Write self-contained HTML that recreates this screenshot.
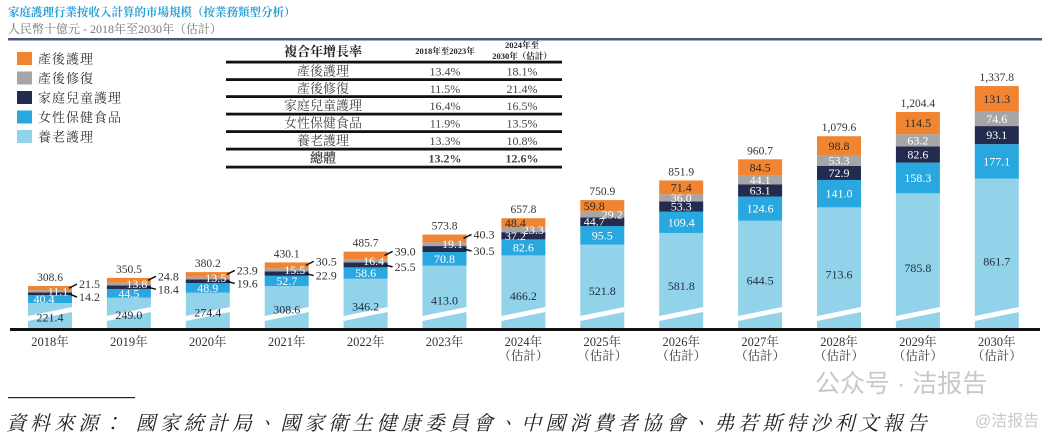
<!DOCTYPE html>
<html><head><meta charset="utf-8"><style>
body{margin:0;background:#fff;}
svg{display:block;font-family:"Liberation Serif","Noto Serif CJK TC","Noto Serif CJK SC",serif;}
</style></head><body>
<svg id="chart" width="1049" height="443" viewBox="0 0 1049 443">
<text x="8" y="16" font-size="11.5" font-weight="bold" fill="#2a9fd6">家庭護理行業按收入計算的市場規模（按業務類型分析）</text>
<text x="8" y="33" font-size="12" fill="#777">人民幣十億元 - 2018年至2030年（估計）</text>
<rect x="8" y="38" width="1034" height="2.5" fill="#4a5878"/>
<g id="legend"></g>
<g id="table"></g>
<g id="bars"></g>
<rect x="10" y="328" width="1030" height="3" fill="#111"/>
<rect x="8" y="397" width="127" height="1.2" fill="#222"/>
<text x="6" y="430" font-size="20" font-style="italic" letter-spacing="4.1" fill="#222">資料來源：  國家統計局、國家衛生健康委員會、中國消費者協會、弗若斯特沙利文報告</text>
<text x="815" y="392" font-size="25" fill="#c8c8c8" font-family="Liberation Sans, Noto Sans CJK SC, sans-serif">公众号 · 洁报告</text>
<text x="975" y="426" font-size="16" fill="#c8c8c8" font-family="Liberation Sans, Noto Sans CJK SC, sans-serif">@洁报告</text>
</svg>
<script>
const years=["2018年","2019年","2020年","2021年","2022年","2023年","2024年","2025年","2026年","2027年","2028年","2029年","2030年"];
const estimated=[false,false,false,false,false,false,true,true,true,true,true,true,true];
const elderly=[221.4,249.0,274.4,308.6,346.2,413.0,466.2,521.8,581.8,644.5,713.6,785.8,861.7];
const womenHealth=[40.4,44.5,48.9,52.7,58.6,70.8,82.6,95.5,109.4,124.6,141.0,158.3,177.1];
const childCare=[14.2,18.4,19.6,22.9,25.5,30.5,37.2,44.7,53.3,63.1,72.9,82.6,93.1];
const postpartumRecovery=[11.1,13.8,13.5,15.5,16.4,19.1,23.3,29.2,36.0,44.1,53.3,63.2,74.6];
const postpartumCare=[21.5,24.8,23.9,30.5,39.0,40.3,48.4,59.8,71.4,84.5,98.8,114.5,131.3];
const totals=["308.6","350.5","380.2","430.1","485.7","573.8","657.8","750.9","851.9","960.7","1,079.6","1,204.4","1,337.8"];
const seriesNames=["產後護理","產後修復","家庭兒童護理","女性保健食品","養老護理"];
const tableRows=["產後護理","產後修復","家庭兒童護理","女性保健食品","養老護理","總體"];
const cagr1=["13.4%","11.5%","16.4%","11.9%","13.3%","13.2%"];
const cagr2=["18.1%","21.4%","16.5%","13.5%","10.8%","12.6%"];

const NS="http://www.w3.org/2000/svg";
const colors=["#f08431","#a6a6a8","#232b4f","#29a8e0","#92d3e9"];
function mk(tag,attrs,parent,txt){const e=document.createElementNS(NS,tag);for(const k in attrs)e.setAttribute(k,attrs[k]);if(txt!==undefined)e.textContent=txt;parent.appendChild(e);return e;}
const base=329, k=0.1943, off=17;
const xc=i=>50+i*78.9;
const bw=44;
const h=v=>v*k;

const lg=document.getElementById('legend');
seriesNames.forEach((n,i)=>{
  const y=52+i*19.5;
  const r=mk('rect',{x:17,y:y,width:15,height:13,fill:colors[i]},lg);
  
  
  const t=mk('text',{x:38,y:y+11.5,'font-size':13,'letter-spacing':1,fill:'#333'},lg,n);
  
  
});

const tb=document.getElementById('table');
const tl=226, tr=562;
let t0=mk('text',{x:323,y:56,'font-size':13,'font-weight':'bold','text-anchor':'middle',fill:'#222'},tb,"複合年增長率");


t0=mk('text',{x:445,y:54,'font-size':8.5,'font-weight':'bold','text-anchor':'middle',fill:'#222'},tb,"2018年至2023年");


t0=mk('text',{x:522,y:48,'font-size':8.5,'font-weight':'bold','text-anchor':'middle',fill:'#222'},tb,"2024年至");


t0=mk('text',{x:522,y:59,'font-size':8.5,'font-weight':'bold','text-anchor':'middle',fill:'#222'},tb,"2030年（估計）");


const lineYs=[62,79.5,96.5,114,131.5,149,167];
lineYs.forEach(y=>{const l=mk('rect',{x:tl,y:y-1.3,width:tr-tl,height:2.8,fill:'#111'},tb);
  
  });
tableRows.forEach((r,i)=>{
  const y=lineYs[i]+13.5, bold=i===5?'bold':'normal';
  let t=mk('text',{x:323,y:y,'font-size':13,'font-weight':bold,'text-anchor':'middle',fill:'#444'},tb,r);
  
  
  t=mk('text',{x:445,y:y,'font-size':12,'font-weight':bold,'text-anchor':'middle',fill:'#444'},tb,cagr1[i]);
  
  
  t=mk('text',{x:522,y:y,'font-size':12,'font-weight':bold,'text-anchor':'middle',fill:'#444'},tb,cagr2[i]);
  
  
});

const g=document.getElementById('bars');
years.forEach((yr,i)=>{
  const cx=xc(i), L=cx-bw/2, R=cx+bw/2;
  const vals=[elderly[i],womenHealth[i],childCare[i],postpartumRecovery[i],postpartumCare[i]];
  const names=["bar-elderly-care","bar-women-health","bar-child-care","bar-postpartum-recovery","bar-postpartum-care"];
  const cols=[colors[4],colors[3],colors[2],colors[1],colors[0]];
  let y=base; const segs=[];
  vals.forEach((v,j)=>{
    const hh=j===0?h(v)-off:h(v);
    const top=y-hh;
    const r=mk('rect',{x:L,y:top,width:bw,height:hh,fill:cols[j]},g);
    
    
    segs.push([top,y]); y=top;
  });
  const br=mk('polygon',{points:`${L},${base-8} ${R},${base-17} ${R},${base-22} ${L},${base-13}`,fill:'#fff'},g);
  
  
  const et=segs[0][0];
  let t=mk('text',{x:cx,y:et+(base-et)*0.55+4,'font-size':12,'text-anchor':'middle',fill:'#1f2a44'},g,elderly[i].toFixed(1));
  
  
  const m1=(segs[1][0]+segs[1][1])/2;
  t=mk('text',{x:cx-(i===0?6:0),y:m1+4,'font-size':12,'text-anchor':'middle',fill:'#fff'},g,womenHealth[i].toFixed(1));
  
  
  const m2=(segs[2][0]+segs[2][1])/2, m3=(segs[3][0]+segs[3][1])/2, m4=(segs[4][0]+segs[4][1])/2;
  if(i<6){
    t=mk('text',{x:cx+8,y:m3+4,'font-size':12,'text-anchor':'middle',fill:'#fff'},g,postpartumRecovery[i].toFixed(1));
    
    
    const oy=m4-1, ny=Math.max(m2+5,oy+13);
    let l=mk('line',{x1:R-3,y1:m4,x2:R+5,y2:oy-3,stroke:'#111','stroke-width':1.5},g);
    
    
    l=mk('line',{x1:R-3,y1:m2,x2:R+5,y2:ny-3,stroke:'#111','stroke-width':1.5},g);
    
    
    t=mk('text',{x:R+7,y:oy+1,'font-size':12,fill:'#333'},g,postpartumCare[i].toFixed(1));
    
    
    t=mk('text',{x:R+7,y:ny+1,'font-size':12,fill:'#333'},g,childCare[i].toFixed(1));
    
    
  } else {
    const sh=(i<8)?1:0;
    t=mk('text',{x:cx-8*sh,y:m2+4,'font-size':12,'text-anchor':'middle',fill:'#fff'},g,childCare[i].toFixed(1));
    
    
    t=mk('text',{x:cx+10*sh,y:m3+4,'font-size':12,'text-anchor':'middle',fill:'#fff'},g,postpartumRecovery[i].toFixed(1));
    
    
    t=mk('text',{x:cx-8*sh,y:m4+4,'font-size':12,'text-anchor':'middle',fill:'#2a2a2a'},g,postpartumCare[i].toFixed(1));
    
    
  }
  t=mk('text',{x:cx,y:y-5,'font-size':11.5,'text-anchor':'middle',fill:'#333'},g,totals[i]);
  
  
  t=mk('text',{x:cx,y:346,'font-size':12.5,'text-anchor':'middle',fill:'#333'},g,yr);
  
  
  if(estimated[i]){
    t=mk('text',{x:cx,y:360,'font-size':12.5,'text-anchor':'middle',fill:'#333'},g,"（估計）");
    
    
  }
});
</script>
</body></html>
